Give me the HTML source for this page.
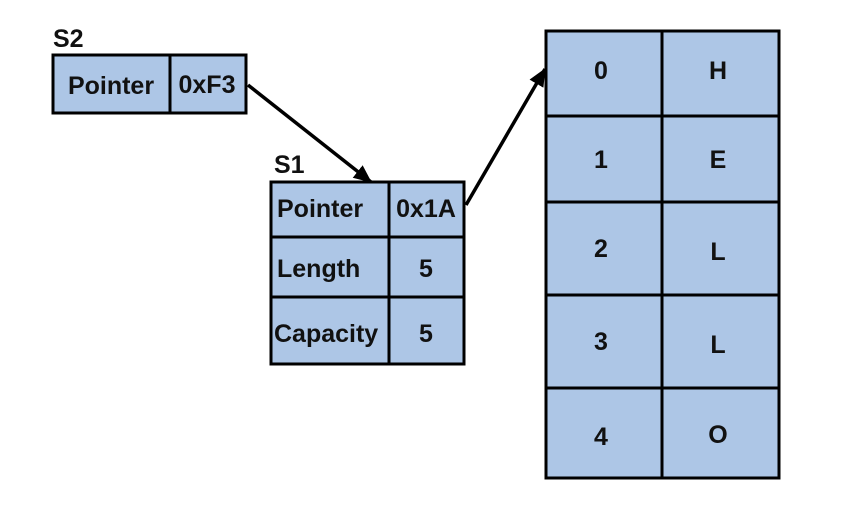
<!DOCTYPE html>
<html><head><meta charset="utf-8"><style>
html,body{margin:0;padding:0;background:#fff;}
svg text{font-family:"Liberation Sans",Arial,sans-serif;font-weight:bold;font-size:25px;fill:#111;}
</style></head><body>
<svg width="850" height="502" viewBox="0 0 850 502" xmlns="http://www.w3.org/2000/svg">
<defs>
<marker id="ah2" markerWidth="18" markerHeight="16" refX="17" refY="8" orient="auto" markerUnits="userSpaceOnUse" viewBox="0 0 18 16">
<path d="M0,0 L18,8 L0,16 Z" fill="#000"/>
</marker>
</defs>
<g fill="#adc6e6" stroke="#000" stroke-width="3">
<rect x="53" y="55" width="193" height="58"/>
<line x1="170" y1="55" x2="170" y2="113"/>
<rect x="271" y="182" width="193" height="182"/>
<line x1="389" y1="182" x2="389" y2="364"/>
<line x1="271" y1="237" x2="464" y2="237"/>
<line x1="271" y1="297" x2="464" y2="297"/>
<rect x="546" y="31" width="233" height="447"/>
<line x1="662" y1="31" x2="662" y2="478"/>
<line x1="546" y1="116" x2="779" y2="116"/>
<line x1="546" y1="202" x2="779" y2="202"/>
<line x1="546" y1="295" x2="779" y2="295"/>
<line x1="546" y1="388" x2="779" y2="388"/>
</g>
<g stroke="#000" stroke-width="3.5" fill="none">
<line x1="248" y1="85" x2="371" y2="182" marker-end="url(#ah2)"/>
<line x1="466" y1="205" x2="545" y2="69" marker-end="url(#ah2)"/>
</g>
<text x="53" y="47">S2</text>
<text x="274" y="173">S1</text>
<text x="111" y="94" text-anchor="middle">Pointer</text>
<text x="207" y="93" text-anchor="middle">0xF3</text>
<text x="277" y="217">Pointer</text>
<text x="426" y="217" text-anchor="middle">0x1A</text>
<text x="277" y="277">Length</text>
<text x="426" y="277" text-anchor="middle">5</text>
<text x="274" y="342">Capacity</text>
<text x="426" y="342" text-anchor="middle">5</text>
<g text-anchor="middle">
<text x="601" y="79">0</text><text x="718" y="79">H</text>
<text x="601" y="168">1</text><text x="718" y="168">E</text>
<text x="601" y="257">2</text><text x="718" y="260">L</text>
<text x="601" y="350">3</text><text x="718" y="353">L</text>
<text x="601" y="445">4</text><text x="718" y="443">O</text>
</g>
</svg>
</body></html>
